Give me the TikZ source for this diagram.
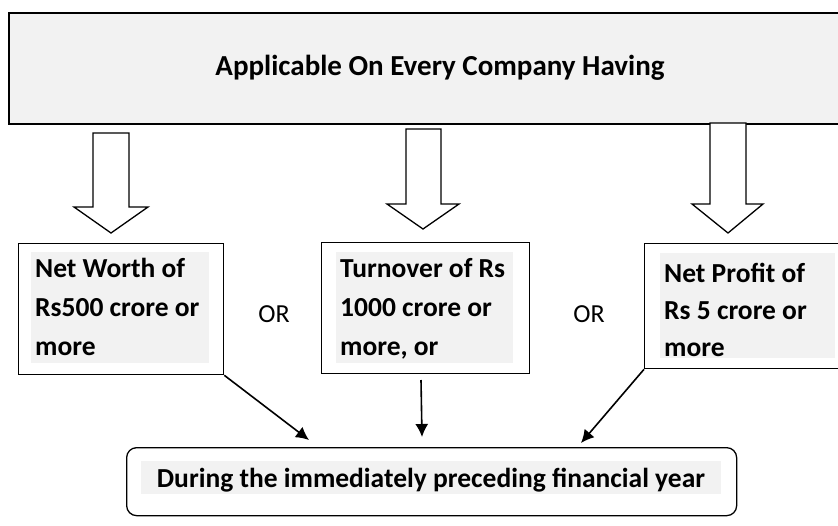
\documentclass[tikz,border=0pt]{standalone}
\usepackage{fontspec}
\setmainfont{Carlito}
\usetikzlibrary{arrows.meta}
\definecolor{hlgray}{HTML}{F2F2F2}
\begin{document}
\begin{tikzpicture}[x=1pt,y=-1pt,
  boxtxt/.style={font=\bfseries\fontsize{27.5}{32}\selectfont, anchor=base west, inner sep=0pt},
  ortxt/.style={font=\fontsize{26}{30}\selectfont, inner sep=0pt},
  condbox/.style={draw, line width=1.3pt, minimum width=208pt, anchor=north west, inner sep=0pt},
  blockarrow/.style={draw, line width=1.3pt, fill=white, line join=miter},
  flow/.style={line width=1.6pt, -{Latex[length=13pt,width=13pt]}}]
\useasboundingbox (0,0) rectangle (838,525);
% top box
\node[draw, line width=2pt, fill=hlgray, minimum width=840pt, minimum height=111pt, anchor=north west, inner sep=0pt] (top) at (8,12) {};
\node[font=\bfseries\fontsize{29}{34}\selectfont, inner sep=0pt] (toptxt) at (440,68) {Applicable On Every Company Having};
% block arrows
\draw[blockarrow] (93,133) -- (129,133) -- (129,207) -- (148,207) -- (111,233) -- (74,207) -- (93,207) -- cycle;
\draw[blockarrow] (406,129) -- (441,129) -- (441,204) -- (459,204) -- (423,229) -- (387,204) -- (406,204) -- cycle;
\draw[blockarrow] (710,123) -- (746,123) -- (746,204) -- (763,204) -- (728,233) -- (692,204) -- (710,204) -- cycle;
% condition boxes
\node[condbox, minimum width=205pt, minimum height=131pt] (lb) at (18,243) {};
\fill[hlgray] (31,252) rectangle (209,363);
\node[boxtxt] (lb1) at (35,277) {Net Worth of};
\node[boxtxt] (lb2) at (35,316) {Rs500 crore or};
\node[boxtxt] (lb3) at (35,355) {more};
\node[condbox, minimum height=131pt] (mb) at (321,242) {};
\fill[hlgray] (336,252) rectangle (513,363);
\node[boxtxt] (mb1) at (340,277) {Turnover of Rs};
\node[boxtxt] (mb2) at (340,316) {1000 crore or};
\node[boxtxt] (mb3) at (340,355) {more, or};
\node[condbox, minimum height=125pt] (rb) at (644,243) {};
\fill[hlgray] (660,253) rectangle (835,358);
\node[boxtxt] (rb1) at (664,282) {Net Profit of};
\node[boxtxt] (rb2) at (664,319) {Rs 5 crore or};
\node[boxtxt] (rb3) at (664,356) {more};
% OR labels
\node[ortxt] (or1) at (274,314) {OR};
\node[ortxt] (or2) at (589,314) {OR};
% bottom box
\node[draw, line width=1.3pt, rounded corners=10pt, minimum width=610pt, minimum height=68pt, anchor=north west, inner sep=0pt] (bb) at (126,447) {};
\fill[hlgray] (141,461) rectangle (721,494);
\node[font=\bfseries\fontsize{27.5}{32}\selectfont, anchor=base, inner sep=0pt] (bbtxt) at (431,487) {During the immediately preceding financial year};
% connectors
\coordinate (m0) at (421,380);
\coordinate (e1) at (309,440);
\coordinate (e2) at (422,437);
\coordinate (e3) at (581,443);
\draw[flow] (lb.south east) -- (e1);
\draw[flow] (m0) -- (e2);
\draw[flow] (rb.south west) -- (e3);
\end{tikzpicture}
\end{document}
